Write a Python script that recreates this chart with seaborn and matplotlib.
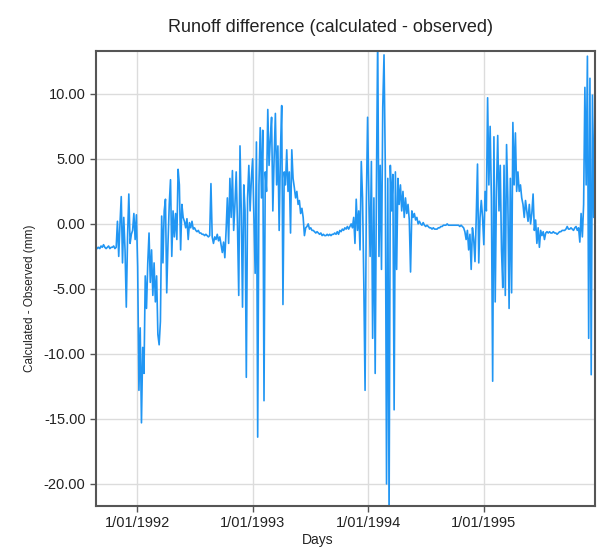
import pandas as pd
import numpy as np
import matplotlib
matplotlib.use("Agg")
import matplotlib.pyplot as plt
import seaborn as sns

# daily model output thinned to one reading every 4 days
start_date = "1991-08-23"
step_days = 4

diff_1991 = [-1.7, -1.9, -1.8, -1.9, -1.7, -1.8, -1.6, -1.8, -1.9, -1.8,
             -1.7, -1.9, -1.8, -1.8, -1.7, -1.9, -1.8,
             0.2, -2.5, 0.0, 2.1, -3.0, 0.5, -2.0, -6.4, -1.0, 2.3, -1.5, -0.8, -0.5, 0.8, -1.2, 0.7]

diff_1992 = [-3.3, -12.8, -8.0, -15.3, -9.5, -11.5, -4.0, -6.5,
             -3.0, -0.7, -4.5, -2.0, -5.5, -3.0, -6.0, -4.0, -8.5, -9.3, -7.5, 0.6, -3.0, 1.0, 1.9, -5.3,
             -1.5, 1.5, 3.4, -2.5, 1.0, -1.0, 0.8, -1.2, 4.2, 3.0, -2.0, 1.5, 0.5, 0.2, -0.3, 0.4, -1.2, 0.1,
             -0.3, 0.2, -0.4, -0.3, -0.5, -0.6, -0.5, -0.7, -0.7, -0.8, -0.8, -0.9, -0.8, -0.9, -1.0, -0.9,
             3.1, -1.0, -1.5, -1.0, -1.2, -0.8, -1.3, -1.0, -1.6, -2.2, -1.4, -2.6,
             -0.5, 2.0, -1.5, 3.5, 0.5, 4.1, -0.5, 1.5, 4.0, 0.0, -5.5, 6.0, 1.0, -6.4, 3.0, 1.0, -11.8,
             2.0, 4.5, 1.0, 3.5, 5.0]

diff_1993 = [0.5, -3.8, 6.3, -16.4, 3.0,
             7.4, 2.0, 7.2, -13.6, 4.0, 2.5, 8.8, 4.5, 6.5, 8.2, 1.0, 5.0, 8.5, 3.0, 6.0, -0.5, 5.5, 9.1,
             -6.2, 4.0, 3.0, 5.7, 2.5, 4.0, -0.7, 5.7, 3.5, 2.8, 2.0, 2.5, 1.5, 1.8, 0.8, 1.2, 0.5, -0.9, -0.3,
             -0.2, 0.0, -0.4, -0.3, -0.5, -0.5, -0.6, -0.7, -0.6, -0.7, -0.8, -0.7, -0.9, -0.8, -0.9, -0.9,
             -0.8, -0.9, -0.8, -0.9, -0.8, -0.8, -0.7, -0.8, -0.6, -0.8, -0.5, -0.6, -0.4, -0.5, -0.3, -0.4,
             -0.2, -0.4, -0.2, 0.0, -0.3,
             0.5, -1.5, 1.9, -0.5, 1.0, -2.0, 4.8, 2.0, -4.5, -12.8, 1.5, 8.2]

diff_1994 = [2.0, -2.5, 4.8, -8.8, 2.0, -11.5, 3.0, 14.5, -2.5, 4.5, -3.5, 9.0, 13.0, 4.5, -20.0,
             3.5, -22.5, 4.5, 1.0, 3.8, -14.3, 4.0, -3.5, 3.5, 1.5,
             3.0, 1.0, 2.5, 0.5, 2.0, 0.8, 1.5, 0.3, -3.7, 1.0, 0.5, 0.8, 0.3, 0.5, 0.0, 0.2,
             0.0, -0.1, 0.1, -0.1, -0.2, -0.1, -0.2, -0.3, -0.3, -0.4, -0.3, -0.4, -0.4, -0.4, -0.3, -0.3,
             -0.2, -0.2, -0.1, -0.1, -0.1, 0.0, -0.1, -0.1, -0.1, -0.1, -0.1, -0.1, -0.1, -0.1, -0.1, -0.2,
             -0.1, -0.2, -0.3,
             -0.6, -1.2, -0.5, -2.0, -0.8, -3.5, -0.3, -1.2, -2.9, 0.5, 4.6, -3.0, 0.5, 1.8, 0.5]

diff_1995 = [-1.6, 2.5, 1.0, 9.7, 3.0, 7.5, 2.0, -12.1, 6.7, -6.0, 2.5, 6.8, 1.0, 4.5, -2.0, -4.9, 4.5,
             -5.5, 6.1, 2.0, -6.5, 3.5, -5.3, 7.8, 3.0, 7.0, 2.5, 4.0, 2.5, 3.0,
             2.0, 1.5, 0.5, 1.8, 1.0, 0.2, 1.5, 0.0, 0.8, 2.3, -0.5, 0.3, -1.5, -0.3, -1.8,
             -0.5, -0.9, -0.6, -1.2, -0.7, -0.6, -0.7, -0.6, -0.7, -0.7, -0.6, -0.7, -0.7, -0.8, -0.7,
             -0.6, -0.6, -0.5, -0.5, -0.5, -0.4, -0.2, -0.4, -0.4, -0.3, -0.4, -0.5, -0.3, -0.2, -0.5,
             -0.3, -1.4, 0.8, -1.0, 1.5, 10.5, 3.0, 12.9, -8.8, 11.2, -11.6, 9.9, 0.5, 9.5]

tick_dates = ["1992-01-01", "1993-01-01", "1994-01-01", "1995-01-01"]
tick_labels = ["1/01/1992", "1/01/1993", "1/01/1994", "1/01/1995"]
y_ticks = [-20, -15, -10, -5, 0, 5, 10]


def RunoffDifference():
    values = diff_1991 + diff_1992 + diff_1993 + diff_1994 + diff_1995
    days = pd.date_range(start_date, periods=len(values), freq=f"{step_days}D")
    df = pd.DataFrame({"Days": days, "Difference": values})

    sns.set_style("whitegrid")
    plt.rcParams["font.family"] = ["Liberation Sans", "DejaVu Sans"]

    fig = plt.figure(figsize=(6.09, 5.55), dpi=100)
    ax = fig.add_axes([0.1576, 0.0883, 0.8194, 0.8198])

    sns.lineplot(data=df, x="Days", y="Difference", color="#2196f3", linewidth=1.2, ax=ax)

    ax.set_xlim(days[0], days[-1])
    ax.set_ylim(-21.7, 13.3)
    ax.set_xticks(pd.to_datetime(tick_dates))
    ax.set_xticklabels(tick_labels)
    ax.set_yticks(y_ticks)
    ax.set_yticklabels([f"{v:.2f}" for v in y_ticks])

    ax.grid(True, color="#dcdcdc", linewidth=1.0)
    ax.tick_params(axis="both", which="major", length=4, width=1, color="#555555",
                   labelsize=10.5, labelcolor="#222222", left=True, bottom=True)
    for spine in ax.spines.values():
        spine.set_color("#555555")
        spine.set_linewidth(1.5)

    ax.set_xlabel("Days", fontsize=10, color="#222222")
    ax.xaxis.set_label_coords(0.445, -0.06)
    ax.set_ylabel("Calculated - Observed (mm)", fontsize=8.5, color="#222222")
    ax.yaxis.set_label_coords(-0.12, 0.456)

    fig.text(0.543, 0.951, "Runoff difference (calculated - observed)",
             ha="center", va="center", fontsize=13, color="#222222")

    fig.savefig("out.png", dpi=100)


def main():
    RunoffDifference()


if __name__ == "__main__":
    main()
